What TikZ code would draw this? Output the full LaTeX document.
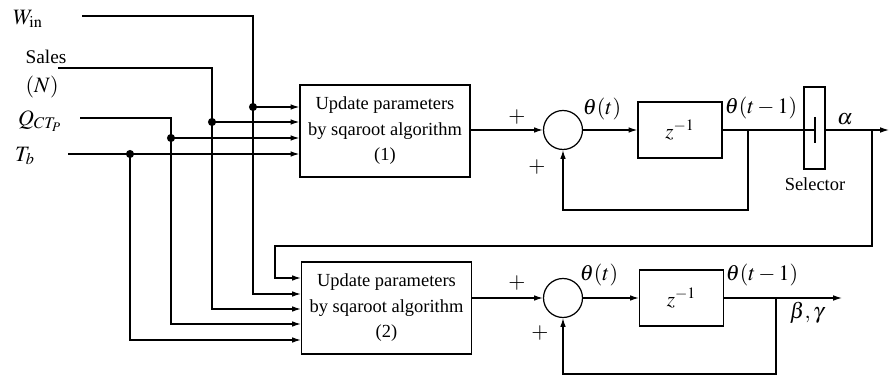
\documentclass[tikz,border=0pt]{standalone}
\usepackage{mathptmx}
\usepackage{fontspec}
\setmainfont{Liberation Serif}
\usetikzlibrary{arrows.meta}
\begin{document}
\begin{tikzpicture}[x=0.02cm,y=-0.02cm, line width=0.7pt,
  arr/.style={-{Latex[length=5pt,width=3.2pt]}},
  upd/.style={draw, inner sep=0pt, minimum width=3.4cm, minimum height=1.84cm, align=center,
    font=\fontsize{10.5}{14.5}\selectfont},
  dly/.style={draw, inner sep=0pt, minimum width=1.68cm, minimum height=1.12cm,
    font=\fontsize{12}{14}\selectfont},
  dot/.style={circle, fill, inner sep=0pt, minimum size=4.6pt},
  lbl/.style={inner sep=1pt, font=\fontsize{10.5}{13}\selectfont},
  mlbl/.style={inner sep=1pt, font=\fontsize{12.5}{15}\selectfont},
  sumc/.style={circle, draw, minimum size=0.78cm, inner sep=0pt}]
\useasboundingbox (0,0) rectangle (890,378);

% blocks
\node[upd] (box1) at (385,131) {Update parameters\\by sqaroot algorithm\\(1)};
\node[upd] (box2) at (386.5,308) {Update parameters\\by sqaroot algorithm\\(2)};
\node[sumc] (sum1) at (563,130) {};
\node[sumc] (sum2) at (563,298) {};
\node[dly] (del1) at (680,130) {$z^{-1}$};
\node[dly] (del2) at (681.5,298) {$z^{-1}$};
\node[draw, inner sep=0pt, minimum width=0.42cm, minimum height=1.64cm] (sel) at (814.5,128) {};

% input labels
\node[mlbl] (lwin) at (28,19) {$W_{\mathrm{in}}$};
\node[mlbl, align=left] (lsales) at (46,74) {\fontsize{11}{13}\selectfont Sales\\[1pt]$(N)$};
\node[mlbl] (lq) at (40,121) {$Q_{CT_P}$};
\node[mlbl] (lt) at (25,156) {$T_b$};

% coordinates of input lines
\coordinate (w0) at (82,16);   \coordinate (w1) at (253,107); \coordinate (w2) at (253,294);
\coordinate (s0) at (58,68);   \coordinate (s1) at (212,122); \coordinate (s2) at (212,309);
\coordinate (q0) at (80,118);  \coordinate (q1) at (171,138); \coordinate (q2) at (171,324);
\coordinate (t0) at (68,154);  \coordinate (t1) at (130,154); \coordinate (t2) at (130,340);

\draw[arr] (w0) -| (w2) -- (w2 -| box2.west);
\draw[arr] (s0) -| (s2) -- (s2 -| box2.west);
\draw[arr] (q0) -| (q2) -- (q2 -| box2.west);
\draw[arr] (t0) -- (t1) -- (t2) -- (t2 -| box2.west);
\draw[arr] (w1) -- (w1 -| box1.west);
\draw[arr] (s1) -- (s1 -| box1.west);
\draw[arr] (q1) -- (q1 -| box1.west);
\draw[arr] (t1) -- (t1 -| box1.west);
\node[dot] at (w1) {};
\node[dot] at (s1) {};
\node[dot] at (q1) {};
\node[dot] at (t1) {};

% loop 1
\draw[arr] (box1.east |- sum1) -- (sum1.west);
\draw[arr] (sum1.east) -- (del1.west);
\coordinate (f1) at (748,130);
\coordinate (f1b) at (748,210);
\draw (del1.east) -- (f1);
\draw[arr] (f1) -- (f1b) -| (sum1.south);
\coordinate (selin) at (815,130);
\draw (f1) -- (selin);
\draw (815,117) -- (815,143);
\coordinate (aout) at (889,130);
\coordinate (a1) at (872,130);
\draw[arr] (sel.east |- aout) -- (aout);
\coordinate (a2) at (872,246);
\coordinate (a3) at (275,278);
\draw[arr] (a1) -- (a2) -| (a3) -- (a3 -| box2.west);

% loop 2
\draw[arr] (box2.east |- sum2) -- (sum2.west);
\draw[arr] (sum2.east) -- (del2.west);
\coordinate (f2) at (776,298);
\coordinate (f2b) at (776,374);
\coordinate (bout) at (842,298);
\draw[arr] (del2.east) -- (bout);
\draw[arr] (f2) -- (f2b) -| (sum2.south);

% labels
\node[mlbl] (p1) at (517,117) {$+$};
\node[mlbl] (p2) at (537,167) {$+$};
\node[mlbl] (p3) at (517,283) {$+$};
\node[mlbl] (p4) at (540,333) {$+$};
\node[mlbl] (th1) at (602,109) {$\theta(t)$};
\node[mlbl] (th2) at (599,275) {$\theta(t)$};
\node[mlbl] (tm1) at (761,108) {$\theta(t-1)$};
\node[mlbl] (tm2) at (762,275) {$\theta(t-1)$};
\node[mlbl] (al) at (845,119) {$\alpha$};
\node[lbl] (sl) at (815,184) {Selector};
\node[mlbl] (bg) at (807,313) {$\beta,\gamma$};
\end{tikzpicture}
\end{document}
